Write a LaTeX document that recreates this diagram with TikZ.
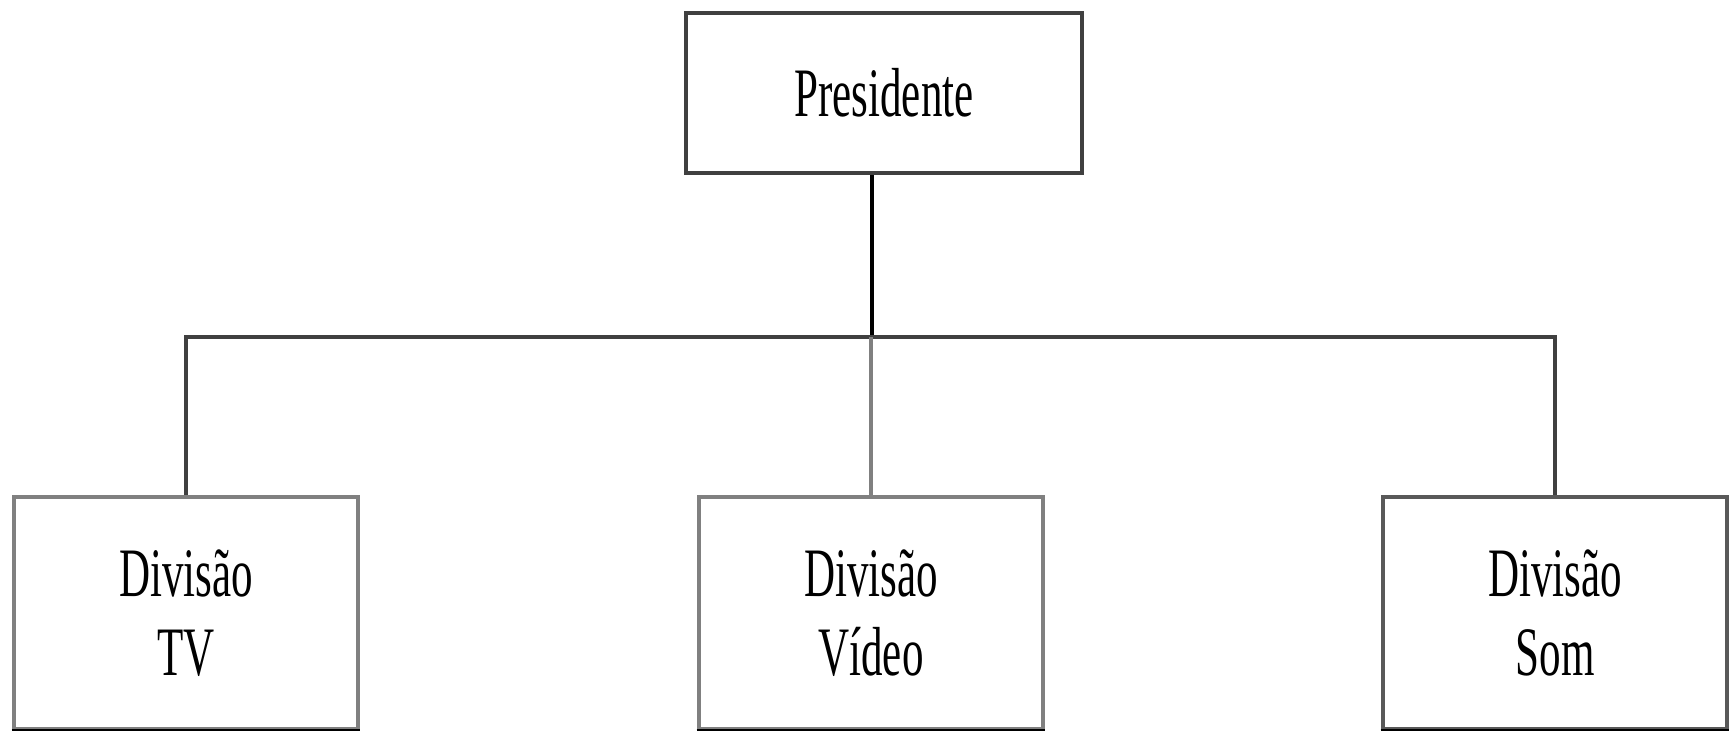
\documentclass[tikz,border=0pt]{standalone}
\usepackage{fontspec}
\usepackage{graphicx}
\setmainfont{Liberation Serif}
\newcommand\narrowtext[1]{\scalebox{0.62}[1]{#1}}
\tikzset{
  orgbox/.style={draw=#1, line width=2.3pt, rectangle, inner sep=0pt,
    align=center, font=\fontsize{34.7}{39.5}\selectfont, fill=white},
  link/.style={line width=2.3pt, draw=#1},
}
\begin{document}
\begin{tikzpicture}[x=0.5pt,y=-0.5pt]
\useasboundingbox (0,0) rectangle (1732,731);
\node[orgbox={black!75}, minimum width=198pt, minimum height=80pt] (pres) at (884,93) {\narrowtext{Presidente}};
\node[orgbox={black!50}, minimum width=172pt, minimum height=116pt] (tv) at (186,613) {\narrowtext{Divisão}\\\narrowtext{TV}};
\node[orgbox={black!50}, minimum width=172pt, minimum height=116pt] (vid) at (871,613) {\narrowtext{Divisão}\\\narrowtext{Vídeo}};
\node[orgbox={black!65}, minimum width=172pt, minimum height=116pt] (som) at (1555,613) {\narrowtext{Divisão}\\\narrowtext{Som}};
\coordinate (j) at (872,337);
\draw[link=black] (pres.south -| j) -- (j);
\draw[link={black!75}] (tv.north) -- (tv.north |- j) -- (som.north |- j) -- (som.north);
\draw[link={black!50}] (vid.north) -- (vid.north |- j);
\foreach \b in {tv,vid,som}{\draw[line width=2.3pt,black] (\b.south west) -- (\b.south east);}
\end{tikzpicture}
\end{document}
